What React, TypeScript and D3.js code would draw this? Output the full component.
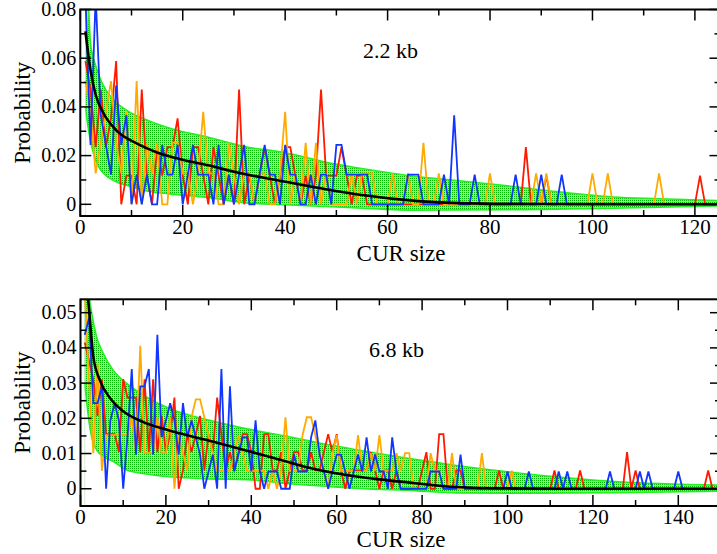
import React, { useEffect, useRef } from "react";
import * as d3 from "d3";

// ---------- 2.2 kb panel (x = CUR size 1..124) ----------
const topRed = [
  0.0588, 0.0471, 0.0235, 0.0471, 0.0235, 0.0353, 0.0588, 0, 0.0118, 0.0118,
  0, 0.0471, 0.0118, 0, 0.0235, 0.0118, 0.0235, 0.0235, 0.0353, 0.0118,
  0, 0.0235, 0.0235, 0.0118, 0, 0.0235, 0.0118, 0, 0.0118, 0,
  0.0471, 0, 0.0118, 0, 0.0118, 0.0235, 0.0118, 0, 0.0118, 0.0235,
  0.0235, 0.0118, 0, 0.0118, 0, 0.0118, 0.0471, 0.0118, 0.0118, 0.0118,
  0.0235, 0.0118, 0, 0.0118, 0.0118, 0, 0, 0, 0, 0,
  0, 0, 0, 0, 0, 0, 0, 0, 0, 0,
  0, 0, 0, 0, 0, 0, 0, 0, 0, 0,
  0, 0, 0, 0, 0, 0, 0.0235, 0, 0, 0,
  0.0118, 0, 0, 0, 0, 0, 0, 0, 0, 0,
  0, 0, 0, 0, 0, 0, 0, 0, 0, 0,
  0, 0, 0, 0, 0, 0, 0, 0, 0, 0,
  0.0118, 0, 0, 0,
];
const topOrange = [
  0.0506, 0.038, 0.0127, 0.0253, 0.038, 0.0506, 0.0253, 0.0127, 0.038, 0,
  0.0506, 0, 0.0253, 0.0127, 0.0253, 0, 0, 0.0253, 0.0253, 0.0127,
  0.0127, 0, 0.0127, 0.038, 0.0127, 0.0127, 0, 0, 0.0253, 0.0127,
  0, 0.0127, 0.0127, 0, 0.0127, 0.0127, 0, 0, 0.0127, 0.038,
  0, 0.0127, 0, 0.0253, 0, 0.0253, 0, 0.0127, 0, 0,
  0, 0, 0.0127, 0, 0.0127, 0.0127, 0.0127, 0, 0, 0,
  0.0127, 0, 0, 0.0127, 0, 0, 0.0253, 0, 0, 0.0127,
  0, 0, 0, 0, 0, 0, 0, 0, 0, 0.0127,
  0, 0, 0, 0, 0, 0, 0, 0, 0.0127, 0,
  0.0127, 0, 0, 0, 0, 0, 0, 0, 0, 0.0127,
  0, 0, 0.0127, 0, 0, 0, 0, 0, 0, 0,
  0, 0, 0.0127, 0, 0, 0, 0, 0, 0, 0,
  0, 0, 0, 0,
];
const topBlue = [
  0.0854, 0.0244, 0.0854, 0.0366, 0.0244, 0.0122, 0.0488, 0.0244, 0.0366, 0,
  0.0122, 0, 0.0122, 0, 0, 0.0244, 0.0122, 0.0122, 0.0244, 0,
  0.0122, 0.0244, 0.0122, 0.0122, 0.0122, 0, 0.0244, 0, 0.0122, 0,
  0.0122, 0.0244, 0, 0, 0.0122, 0.0244, 0.0122, 0.0122, 0, 0.0244,
  0.0122, 0.0122, 0, 0, 0.0122, 0, 0.0122, 0.0122, 0, 0.0244,
  0.0244, 0.0122, 0.0122, 0.0122, 0.0122, 0.0122, 0, 0, 0, 0,
  0, 0, 0, 0.0122, 0.0122, 0.0122, 0, 0, 0, 0,
  0.0122, 0, 0.0366, 0, 0, 0, 0.0122, 0, 0, 0,
  0, 0, 0, 0, 0.0122, 0, 0, 0, 0, 0.0122,
  0, 0, 0, 0.0122, 0, 0, 0, 0, 0, 0,
  0, 0, 0, 0, 0, 0, 0, 0, 0, 0,
  0, 0, 0, 0, 0, 0, 0, 0, 0, 0,
  0, 0, 0, 0,
];
// mean curve and spread band
const topCurveX = [1, 2, 3, 4.5, 7, 11, 15, 20, 25, 30, 35, 40, 49, 55, 66, 74, 90, 125];
const topCurveY = [0.071, 0.055, 0.045, 0.0375, 0.0305, 0.025, 0.0213, 0.0183, 0.016, 0.0134, 0.0112, 0.0093, 0.0058, 0.0038, 0.0013, 0.0005, 0.0001, 0];
const topBandX = [1, 1.5, 2, 3, 4, 5, 6.5, 9, 13, 17.5, 25, 32, 40, 49, 54, 66, 73.5, 85, 93, 104, 113, 125];
const topBandUpper = [0.095, 0.085, 0.066, 0.057, 0.051, 0.047, 0.0428, 0.0387, 0.0346, 0.0312, 0.0275, 0.0237, 0.0212, 0.0168, 0.015, 0.0113, 0.0098, 0.0072, 0.0052, 0.003, 0.0023, 0.0015];
const topBandLower = [0.04, 0.032, 0.026, 0.018, 0.0141, 0.0118, 0.0098, 0.0078, 0.0055, 0.0043, 0.0028, 0.0007, -0.0002, -0.001, -0.0015, -0.0024, -0.0023, -0.0022, -0.002, -0.0016, -0.0012, -0.0006];
const topXTicks = [0, 20, 40, 60, 80, 100, 120];
const topXMinor = [10, 30, 50, 70, 90, 110];
const topYTicks = [0, 0.02, 0.04, 0.06, 0.08];
const topYLabels = ["0", "0.02", "0.04", "0.06", "0.08"];
const topYMinor = [0.01, 0.03, 0.05, 0.07];

// ---------- 6.8 kb panel (x = CUR size 1..148) ----------
const botRed = [
  0.0415, 0.0363, 0.0311, 0.0207, 0.0311, 0.0155, 0.0155, 0.0155, 0.0104, 0.0311,
  0.0259, 0.0259, 0.0259, 0.0104, 0.0311, 0.0104, 0.0311, 0.0104, 0.0207, 0.0104,
  0.0155, 0.0259, 0, 0.0052, 0.0155, 0.0104, 0.0155, 0.0207, 0.0052, 0.0155,
  0.0104, 0.0259, 0.0155, 0.0052, 0.0104, 0.0052, 0.0104, 0.0155, 0.0155, 0.0104,
  0, 0, 0.0155, 0.0155, 0.0052, 0.0052, 0.0104, 0, 0.0052, 0.0104,
  0.0104, 0.0052, 0.0052, 0.0104, 0.0052, 0.0052, 0.0104, 0.0155, 0.0104, 0.0155,
  0.0052, 0, 0.0052, 0.0052, 0.0052, 0.0052, 0.0052, 0.0104, 0.0052, 0,
  0.0052, 0.0052, 0, 0.0052, 0, 0, 0, 0, 0, 0.0052,
  0.0104, 0, 0, 0.0155, 0.0155, 0, 0, 0.0052, 0.0052, 0,
  0, 0, 0, 0, 0, 0, 0, 0.0052, 0, 0,
  0, 0, 0, 0, 0, 0, 0, 0, 0, 0,
  0.0052, 0, 0, 0, 0, 0, 0.0052, 0, 0, 0,
  0, 0, 0, 0, 0, 0, 0, 0.0104, 0, 0.0052,
  0, 0, 0, 0, 0, 0, 0, 0, 0, 0,
  0, 0, 0, 0, 0, 0, 0.0052, 0,
];
const botOrange = [
  0.0558, 0.0304, 0.0101, 0.0355, 0.0051, 0.0152, 0.0152, 0.0152, 0.0152, 0.0152,
  0.0152, 0.0203, 0.0101, 0.0406, 0.0101, 0.0101, 0.0101, 0.0203, 0.0101, 0.0101,
  0.0203, 0, 0.0152, 0.0101, 0.0051, 0.0203, 0.0254, 0.0254, 0.0203, 0.0152,
  0.0101, 0.0051, 0.0051, 0.0051, 0.0051, 0.0101, 0.0152, 0.0101, 0.0051, 0.0051,
  0.0051, 0.0051, 0.0051, 0, 0.0051, 0, 0.0051, 0.0203, 0.0051, 0.0051,
  0.0051, 0.0152, 0.0203, 0.0203, 0.0152, 0.0101, 0.0051, 0, 0.0101, 0.0152,
  0.0051, 0.0051, 0.0051, 0.0051, 0.0152, 0.0051, 0.0051, 0.0101, 0.0051, 0.0152,
  0.0051, 0.0051, 0.0051, 0.0101, 0.0051, 0.0101, 0.0101, 0, 0, 0,
  0, 0.0101, 0.0051, 0.0051, 0, 0, 0.0101, 0, 0, 0,
  0, 0, 0, 0.0101, 0, 0, 0, 0, 0, 0,
  0.0051, 0,
];
const botBlue = [
  0.0437, 0.0485, 0.0243, 0.0243, 0.0291, 0, 0.0194, 0.0243, 0.0194, 0,
  0.0146, 0.034, 0.0097, 0.0291, 0.0291, 0.034, 0.0097, 0.0437, 0.0146, 0.0194,
  0.0243, 0.0194, 0.0097, 0.0243, 0.0146, 0.0194, 0.0146, 0.0097, 0, 0.0049,
  0.0097, 0, 0.034, 0, 0.0291, 0.0049, 0.0097, 0.0146, 0.0146, 0.0049,
  0.0194, 0.0049, 0, 0.0049, 0.0049, 0.0049, 0, 0, 0, 0.0097,
  0.0049, 0.0049, 0.0049, 0.0146, 0.0194, 0.0097, 0.0049, 0, 0.0049, 0.0097,
  0.0097, 0.0049, 0, 0.0049, 0.0097, 0.0049, 0.0146, 0.0049, 0.0097, 0.0049,
  0.0049, 0, 0.0146, 0.0049, 0, 0, 0, 0, 0, 0,
  0, 0.0049, 0.0049, 0.0049, 0, 0, 0, 0, 0.0097, 0,
  0, 0, 0, 0, 0, 0, 0, 0, 0, 0.0049,
  0, 0, 0, 0, 0.0049, 0, 0, 0, 0, 0,
  0, 0.0049, 0, 0.0049, 0, 0, 0, 0, 0, 0,
  0, 0, 0, 0.0049, 0, 0, 0, 0, 0, 0,
  0.0049, 0, 0.0049, 0, 0, 0, 0, 0, 0, 0.0049,
  0, 0,
];
const botCurveX = [1, 1.8, 3, 4.5, 7, 10, 14.6, 20, 30, 39, 48, 54, 65, 69, 79, 88, 100, 120, 150];
const botCurveY = [0.062, 0.0536, 0.0375, 0.0309, 0.0256, 0.022, 0.019, 0.0168, 0.0137, 0.0108, 0.0078, 0.0058, 0.0034, 0.0028, 0.0015, 0.0005, 0.0001, 0, 0];
const botBandX = [1, 1.5, 2, 2.6, 3.8, 5.3, 7.6, 10.8, 15.4, 20.8, 30, 39, 48, 58.5, 65, 79, 88, 103, 126, 150];
const botBandUpper = [0.075, 0.062, 0.055, 0.05, 0.043, 0.0385, 0.0337, 0.0299, 0.0261, 0.0228, 0.0195, 0.017, 0.015, 0.0124, 0.011, 0.0082, 0.0066, 0.0044, 0.002, 0.001];
const botBandLower = [0.03, 0.024, 0.019, 0.0148, 0.011, 0.0092, 0.0078, 0.0053, 0.0042, 0.0034, 0.0028, 0.0026, 0.0015, 0.0006, 0.0001, -0.0006, -0.0012, -0.0013, -0.0011, -0.0007];
const botXTicks = [0, 20, 40, 60, 80, 100, 120, 140];
const botXMinor = [10, 30, 50, 70, 90, 110, 130, 150];
const botYTicks = [0, 0.01, 0.02, 0.03, 0.04, 0.05];
const botYLabels = ["0", "0.01", "0.02", "0.03", "0.04", "0.05"];
const botYMinor = [0.005, 0.015, 0.025, 0.035, 0.045];

const FONT = "'Liberation Serif', 'Times New Roman', serif";

const drawPanel = (svg, p) => {
  const x = d3.scaleLinear().domain(p.xDomain).range([p.left, p.right]);
  const y = d3.scaleLinear().domain(p.yDomain).range([p.bottom, p.top]);

  svg
    .append("clipPath")
    .attr("id", p.id)
    .append("rect")
    .attr("x", p.left)
    .attr("y", p.top)
    .attr("width", p.right - p.left)
    .attr("height", p.bottom - p.top);

  const g = svg.append("g").attr("clip-path", `url(#${p.id})`);

  // spread band
  const band = p.bandX.map((bx, i) => ({ x: bx, lo: p.bandLower[i], hi: p.bandUpper[i] }));
  g.append("path")
    .datum(band)
    .attr(
      "d",
      d3
        .area()
        .x((d) => x(d.x))
        .y0((d) => y(d.lo))
        .y1((d) => y(d.hi))
        .curve(d3.curveMonotoneX)
    )
    .attr("fill", "url(#dots)");
  ["hi", "lo"].forEach((k) => {
    g.append("path")
      .datum(band)
      .attr(
        "d",
        d3
          .line()
          .x((d) => x(d.x))
          .y((d) => y(d[k]))
          .curve(d3.curveMonotoneX)
      )
      .attr("fill", "none")
      .attr("stroke", "#22f022")
      .attr("stroke-width", 1.6);
  });
  // faint closing line of the band
  g.append("line")
    .attr("x1", x(p.bandX[0]))
    .attr("x2", x(p.bandX[0]))
    .attr("y1", p.top)
    .attr("y2", p.bottom)
    .attr("stroke", "#9be89b")
    .attr("stroke-width", 1)
    .attr("stroke-dasharray", "1,1");

  // measured series
  const line = d3
    .line()
    .x((d, i) => x(i + 1))
    .y((d) => y(d));
  [
    [p.red, "#ff1a00"],
    [p.orange, "#ffaa00"],
    [p.blue, "#1036ff"],
  ].forEach(([data, color]) => {
    g.append("path")
      .datum(data)
      .attr("d", line)
      .attr("fill", "none")
      .attr("stroke", color)
      .attr("stroke-width", 1.8);
  });

  // mean curve
  const curve = p.curveX.map((cx, i) => [cx, p.curveY[i]]);
  g.append("path")
    .datum(curve)
    .attr(
      "d",
      d3
        .line()
        .x((d) => x(d[0]))
        .y((d) => y(d[1]))
        .curve(d3.curveMonotoneX)
    )
    .attr("fill", "none")
    .attr("stroke", "#000")
    .attr("stroke-width", 2.6);

  // frame
  svg
    .append("rect")
    .attr("x", p.left)
    .attr("y", p.top)
    .attr("width", p.right - p.left)
    .attr("height", p.bottom - p.top)
    .attr("fill", "none")
    .attr("stroke", "#000")
    .attr("stroke-width", 2);

  const ticks = svg.append("g").attr("stroke", "#000").attr("stroke-width", 1.5);
  const major = 11;
  const minor = 6;
  p.xTicks.forEach((t) => {
    ticks.append("line").attr("x1", x(t)).attr("x2", x(t)).attr("y1", p.bottom).attr("y2", p.bottom - major);
    ticks.append("line").attr("x1", x(t)).attr("x2", x(t)).attr("y1", p.top).attr("y2", p.top + major);
  });
  p.xMinor.forEach((t) => {
    ticks.append("line").attr("x1", x(t)).attr("x2", x(t)).attr("y1", p.bottom).attr("y2", p.bottom - minor);
    ticks.append("line").attr("x1", x(t)).attr("x2", x(t)).attr("y1", p.top).attr("y2", p.top + minor);
  });
  p.yTicks.forEach((t) => {
    ticks.append("line").attr("x1", p.left).attr("x2", p.left + major).attr("y1", y(t)).attr("y2", y(t));
    ticks.append("line").attr("x1", p.right).attr("x2", p.right - major).attr("y1", y(t)).attr("y2", y(t));
  });
  p.yMinor.forEach((t) => {
    ticks.append("line").attr("x1", p.left).attr("x2", p.left + minor).attr("y1", y(t)).attr("y2", y(t));
    ticks.append("line").attr("x1", p.right).attr("x2", p.right - minor).attr("y1", y(t)).attr("y2", y(t));
  });

  // tick labels
  p.xTicks.forEach((t) => {
    svg
      .append("text")
      .attr("x", x(t))
      .attr("y", p.bottom + 18)
      .attr("text-anchor", "middle")
      .attr("font-family", FONT)
      .attr("font-size", 21)
      .text(t);
  });
  p.yTicks.forEach((t, i) => {
    svg
      .append("text")
      .attr("x", p.left - 4)
      .attr("y", y(t) + 6.5)
      .attr("text-anchor", "end")
      .attr("font-family", FONT)
      .attr("font-size", 20)
      .text(p.yLabels[i]);
  });

  // axis titles
  svg
    .append("text")
    .attr("x", 401)
    .attr("y", p.bottom + p.titleGap)
    .attr("text-anchor", "middle")
    .attr("font-family", FONT)
    .attr("font-size", 23)
    .text("CUR size");
  svg
    .append("text")
    .attr("transform", `translate(30, ${(p.top + p.bottom) / 2}) rotate(-90)`)
    .attr("text-anchor", "middle")
    .attr("font-family", FONT)
    .attr("font-size", 23)
    .text("Probability");

  // panel label
  svg
    .append("text")
    .attr("x", p.labelX)
    .attr("y", p.labelY)
    .attr("font-family", FONT)
    .attr("font-size", 22)
    .text(p.label);
};

const App = () => {
  const svgRef = useRef(null);

  useEffect(() => {
    if (!svgRef.current) return;
    const svg = d3.select(svgRef.current);
    svg.selectAll("*").remove();

    // stipple pattern for the band
    const pat = svg
      .append("defs")
      .append("pattern")
      .attr("id", "dots")
      .attr("patternUnits", "userSpaceOnUse")
      .attr("width", 2)
      .attr("height", 2);
    pat.append("rect").attr("width", 2).attr("height", 2).attr("fill", "#9af09a");
    pat.append("rect").attr("width", 1).attr("height", 1).attr("fill", "#00b400");

    drawPanel(svg, {
      id: "clipTop",
      left: 80.3,
      right: 720.5,
      top: 9.5,
      bottom: 216,
      xDomain: [0, 125],
      yDomain: [-0.0048, 0.08],
      red: topRed,
      orange: topOrange,
      blue: topBlue,
      curveX: topCurveX,
      curveY: topCurveY,
      bandX: topBandX,
      bandUpper: topBandUpper,
      bandLower: topBandLower,
      xTicks: topXTicks,
      xMinor: topXMinor,
      yTicks: topYTicks,
      yLabels: topYLabels,
      yMinor: topYMinor,
      titleGap: 45,
      label: "2.2 kb",
      labelX: 363,
      labelY: 58,
    });

    drawPanel(svg, {
      id: "clipBot",
      left: 80.5,
      right: 721,
      top: 299.3,
      bottom: 506,
      xDomain: [0, 150],
      yDomain: [-0.0049, 0.0538],
      red: botRed,
      orange: botOrange,
      blue: botBlue,
      curveX: botCurveX,
      curveY: botCurveY,
      bandX: botBandX,
      bandUpper: botBandUpper,
      bandLower: botBandLower,
      xTicks: botXTicks,
      xMinor: botXMinor,
      yTicks: botYTicks,
      yLabels: botYLabels,
      yMinor: botYMinor,
      titleGap: 41,
      label: "6.8 kb",
      labelX: 369,
      labelY: 357,
    });
  }, []);

  return (
    <svg
      ref={svgRef}
      width={717}
      height={554}
      style={{ position: "absolute", left: 0, top: 0, background: "#fff" }}
    />
  );
};

export default App;
